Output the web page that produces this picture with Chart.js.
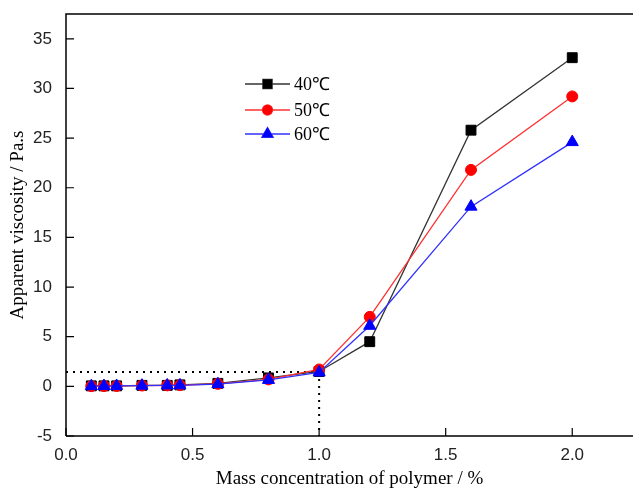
<!DOCTYPE html>
<html>
<head>
<meta charset="utf-8">
<script src="https://cdn.jsdelivr.net/npm/chart.js@4/dist/chart.umd.min.js"></script>
<style>
html,body{margin:0;padding:0;background:#fff;}
#wrap{width:633px;height:494px;position:relative;}
</style>
</head>
<body>
<div id="wrap"><canvas id="c" width="633" height="494"></canvas></div>
<script>
// ---- data ----
const concentrations = [0.1, 0.15, 0.2, 0.3, 0.4, 0.45, 0.6, 0.8, 1.0, 1.2, 1.6, 2.0];
const visc40 = [0.05, 0.05, 0.05, 0.1, 0.1, 0.15, 0.3, 0.85, 1.5, 4.5, 25.8, 33.1];
const visc50 = [0.02, 0.03, 0.04, 0.08, 0.1, 0.12, 0.25, 0.7, 1.7, 7.0, 21.8, 29.2];
const visc60 = [0.02, 0.03, 0.04, 0.07, 0.09, 0.1, 0.22, 0.65, 1.4, 6.1, 18.1, 24.6];
const seriesLabels = ['40\u2103', '50\u2103', '60\u2103'];
const refX = 1.0;
const refY = 1.45;
const xTickLabels = ['0.0', '0.5', '1.0', '1.5', '2.0'];
const yTickLabels = ['-5', '0', '5', '10', '15', '20', '25', '30', '35'];

const toPts = (ys) => concentrations.map((x, i) => ({x: x, y: ys[i]}));

const colors = ['#000000', '#ff0000', '#0000ff'];
const lineColors = ['#333333', '#ff3030', '#3030ff'];
const styles = ['rect', 'circle', 'triangle'];
const radii = [7, 5.5, 7];

const inwardTicks = {
  id: 'inwardTicks',
  afterDraw(chart) {
    const ctx = chart.ctx;
    const a = chart.chartArea;
    const xs = chart.scales.x, ys = chart.scales.y;
    ctx.save();
    ctx.strokeStyle = '#000';
    ctx.lineWidth = 1.5;
    ctx.beginPath();
    ctx.moveTo(a.left, a.bottom); ctx.lineTo(a.left, a.top); ctx.lineTo(chart.width + 2, a.top);
    ctx.moveTo(a.left, a.bottom); ctx.lineTo(chart.width + 2, a.bottom);
    ctx.stroke();
    ctx.lineWidth = 1.2;
    ctx.beginPath();
    xs.ticks.forEach(t => {
      const px = xs.getPixelForValue(t.value);
      const major = Math.abs(t.value * 2 - Math.round(t.value * 2)) < 1e-6;
      ctx.moveTo(px, a.bottom); ctx.lineTo(px, a.bottom - (major ? 8 : 4));
    });
    ys.ticks.forEach(t => {
      const py = ys.getPixelForValue(t.value);
      const major = Math.abs(t.value / 5 - Math.round(t.value / 5)) < 1e-6;
      ctx.moveTo(a.left, py); ctx.lineTo(a.left + (major ? 8 : 4), py);
    });
    ctx.stroke();

    // legend
    const lx0 = 245, lx1 = 290, rows = [84, 110, 134];
    ctx.font = '18px "Liberation Serif", "Times New Roman", serif';
    ctx.textBaseline = 'middle';
    rows.forEach((ry, i) => {
      ctx.strokeStyle = lineColors[i];
      ctx.lineWidth = 1.3;
      ctx.beginPath(); ctx.moveTo(lx0, ry); ctx.lineTo(lx1, ry); ctx.stroke();
      Chart.helpers.drawPoint(ctx, {pointStyle: styles[i], radius: radii[i] - 0.5, borderWidth: 1}, (lx0 + lx1) / 2, ry);
      ctx.fillStyle = colors[i];
      ctx.strokeStyle = colors[i];
      ctx.fill();
      ctx.fillStyle = '#000';
      ctx.fillText(seriesLabels[i], 294, ry + 1);
    });
    ctx.restore();
  }
};

const series = [visc40, visc50, visc60];
const datasets = series.map((ys, i) => ({
  label: seriesLabels[i],
  data: toPts(ys),
  borderColor: lineColors[i],
  backgroundColor: colors[i],
  pointBackgroundColor: colors[i],
  pointBorderColor: colors[i],
  borderWidth: 1.3,
  pointStyle: styles[i],
  pointRadius: radii[i],
  pointBorderWidth: 1,
  order: 2 - i,
  tension: 0
}));
datasets.push({
  label: 'refH',
  data: [{x: 0, y: refY}, {x: refX, y: refY}],
  borderColor: '#000', borderWidth: 2, borderDash: [2, 5], pointRadius: 0, order: 5
});
datasets.push({
  label: 'refV',
  data: [{x: refX, y: refY}, {x: refX, y: -5}],
  borderColor: '#000', borderWidth: 2, borderDash: [2, 5], pointRadius: 0, order: 5
});

new Chart(document.getElementById('c'), {
  type: 'line',
  data: {datasets},
  options: {
    responsive: false,
    animation: false,
    layout: {autoPadding: false, padding: {top: 14, right: 0, left: 0, bottom: 0}},
    plugins: {legend: {display: false}, tooltip: {enabled: false}},
    scales: {
      x: {
        type: 'linear', min: 0, max: 2.24,
        afterBuildTicks(s) {
          const t = [];
          for (let k = 0; k <= 26; k++) t.push({value: k / 12});
          s.ticks = t;
        },
        afterFit(s) { s.height = 58; s.paddingLeft = 0; s.paddingRight = 0; },
        grid: {display: false, drawTicks: false},
        border: {display: false},
        ticks: {
          autoSkip: false, maxRotation: 0, padding: 9,
          color: '#222',
          font: {family: '"Liberation Sans", Arial, sans-serif', size: 17},
          callback: (v) => {
            const k = Math.round(v * 2);
            return Math.abs(v * 2 - k) < 1e-6 && k < xTickLabels.length ? xTickLabels[k] : null;
          }
        },
        title: {
          display: true, text: 'Mass concentration of polymer / %',
          color: '#000', padding: {top: 0, bottom: 4},
          font: {family: '"Liberation Serif", "Times New Roman", serif', size: 19}
        }
      },
      y: {
        type: 'linear', min: -5, max: 37.5,
        afterBuildTicks(s) {
          const t = [];
          for (let k = 0; k <= 16; k++) t.push({value: -5 + k * 2.5});
          s.ticks = t;
        },
        afterFit(s) { s.width = 66; s.paddingTop = 0; s.paddingBottom = 0; },
        grid: {display: false, drawTicks: false},
        border: {display: false},
        ticks: {
          autoSkip: false, padding: 14,
          color: '#222',
          font: {family: '"Liberation Sans", Arial, sans-serif', size: 17},
          callback: (v) => {
            const k = Math.round((v + 5) / 5);
            return Math.abs((v + 5) / 5 - k) < 1e-6 ? yTickLabels[k] : null;
          }
        },
        title: {
          display: true, text: 'Apparent viscosity / Pa.s',
          color: '#000', padding: {top: 7, bottom: 0},
          font: {family: '"Liberation Serif", "Times New Roman", serif', size: 19}
        }
      }
    }
  },
  plugins: [inwardTicks]
});
</script>
</body>
</html>
